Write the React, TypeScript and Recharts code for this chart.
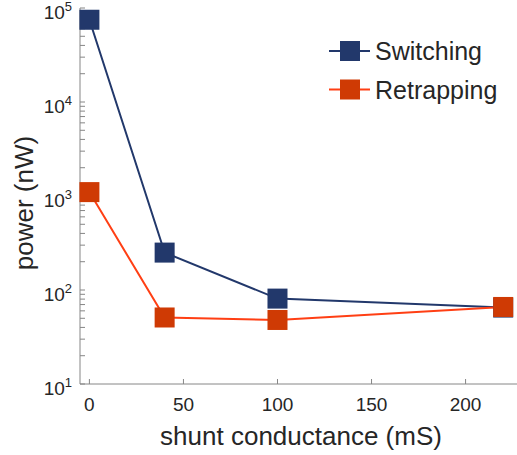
import { LineChart, Line, XAxis, YAxis, Legend, Label } from "recharts";

// shunt conductance (mS)
const conductance = [0, 40, 100, 220];
// power (nW)
const switching = [75000, 250, 81, 65];
const retrapping = [1100, 51, 48, 66];

const seriesNames = ["Switching", "Retrapping"];
const xTicks = [0, 50, 100, 150, 200];
const yTicks = [1, 2, 3, 4].flatMap(k => [1, 2, 3, 4, 5, 6, 7, 8, 9].map(m => m * 10 ** k)).concat([1e5]);

const NAVY = "#22386b";
const RED_LINE = "#ff3f14";
const RED_FILL = "#cf3a04";
const AXIS = "#868686";
const TEXT = "#262626";
const MARKER_FILL: Record<string, string> = { Switching: NAVY, Retrapping: RED_FILL };

const data = conductance.map((g, i) => ({ g, sw: switching[i], re: retrapping[i] }));

const PowTick = (props: any) => {
  const { x, y, payload } = props;
  const e = Math.log10(payload.value);
  if (Math.abs(e - Math.round(e)) > 1e-6) return <g />;
  return (
    <text x={x} y={y + 11} textAnchor="end" fill={TEXT} fontSize={19}>
      <tspan>10</tspan>
      <tspan dy={-8} fontSize={13}>{Math.round(e)}</tspan>
    </text>
  );
};

const squareDot = (fill: string) => (p: any) =>
  <rect key={p.index} x={p.cx - 10} y={p.cy - 10} width={20} height={20} fill={fill} />;

const LegendBox = ({ payload }: any) => {
  const items = [...(payload || [])].sort((a: any, b: any) => seriesNames.indexOf(a.value) - seriesNames.indexOf(b.value));
  return (
    <svg width={190} height={80}>
      {items.map((item: any, i: number) => {
        const cy = 20 + i * 38.5;
        return (
          <g key={item.value}>
            <line x1={9} x2={50} y1={cy} y2={cy} stroke={item.color} strokeWidth={2} />
            <rect x={20} y={cy - 10} width={20} height={20} fill={MARKER_FILL[item.value]} />
            <text x={55} y={cy + 9} fontSize={25} fill={TEXT}>{item.value}</text>
          </g>
        );
      })}
    </svg>
  );
};

export default function App() {
  return (
    <div style={{ position: "fixed", left: 0, top: 0, width: 517, height: 455, overflow: "hidden", background: "#fff", fontFamily: "'Liberation Sans', Arial, sans-serif" }}>
      <LineChart width={540} height={455} data={data} margin={{ top: 8, right: 18, bottom: 11, left: 0 }}>
        <XAxis dataKey="g" type="number" domain={[-5, 230]} ticks={xTicks} height={60}
          stroke={AXIS} tickSize={-5} tickMargin={19} tick={{ fill: TEXT, fontSize: 19 }}>
          <Label value="shunt conductance (mS)" position="insideBottom" offset={-1} fontSize={26} fill={TEXT} />
        </XAxis>
        <XAxis xAxisId="top" orientation="top" dataKey="g" type="number" domain={[-5, 230]} ticks={xTicks} height={0}
          stroke={AXIS} tickSize={-5} tick={() => <g />} />
        <YAxis scale="log" domain={[10, 100000]} ticks={yTicks} interval={0} width={80}
          stroke={AXIS} tickSize={-5} tickMargin={13} tick={<PowTick />}>
          <Label content={(p: any) => {
            const vb = p.viewBox;
            const cx = vb.x + 33;
            const cy = vb.y + vb.height / 2 + 7;
            return <text x={cx} y={cy} transform={`rotate(-90, ${cx}, ${cy})`} textAnchor="middle" fontSize={26} fill={TEXT}>power (nW)</text>;
          }} />
        </YAxis>
        <Legend layout="vertical" align="center" verticalAlign="middle" wrapperStyle={{ left: 320, top: 30.5, width: 190 }} content={<LegendBox />} />
        <Line name="Switching" dataKey="sw" stroke={NAVY} strokeWidth={2} dot={squareDot(NAVY)} isAnimationActive={false} />
        <Line name="Retrapping" dataKey="re" stroke={RED_LINE} strokeWidth={2} dot={squareDot(RED_FILL)} isAnimationActive={false} />
      </LineChart>
    </div>
  );
}
